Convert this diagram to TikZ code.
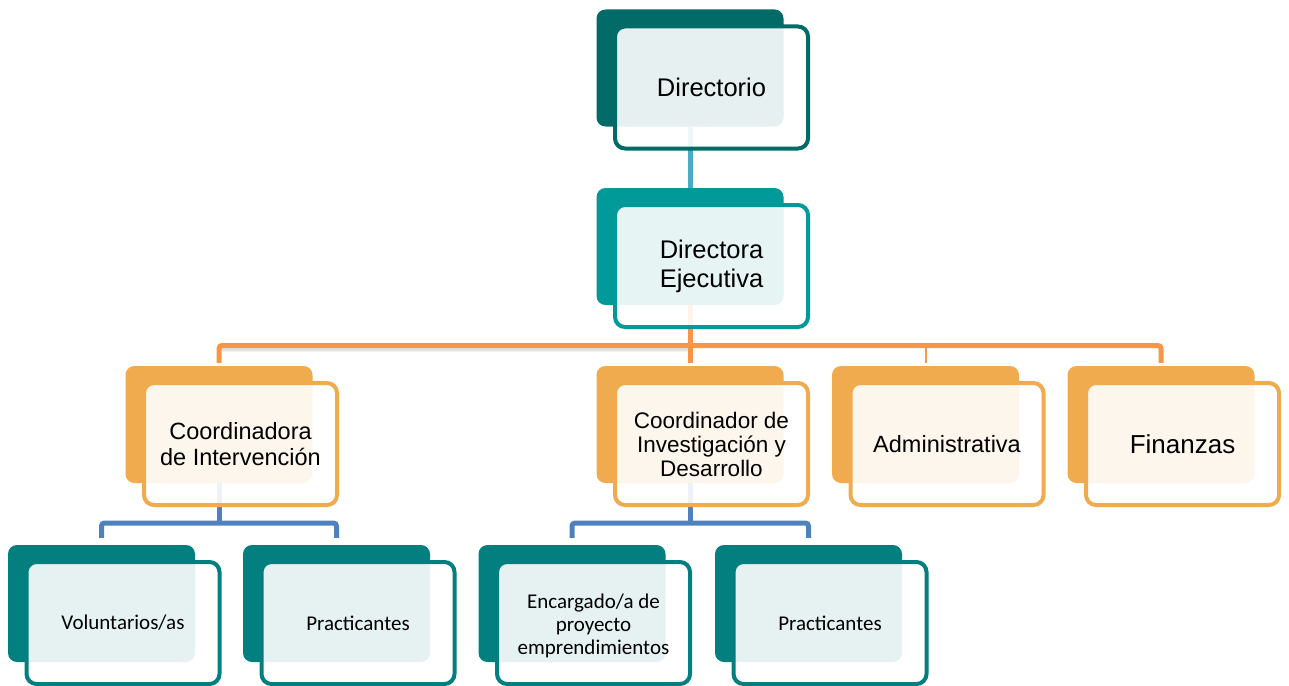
\documentclass[tikz,border=0pt]{standalone}
\usepackage{fontspec}
\setmainfont{Liberation Sans}
\newfontfamily\calib{Carlito}
\definecolor{tealA}{HTML}{026B67}
\definecolor{tealB}{HTML}{029A98}
\definecolor{tealC}{HTML}{027F7E}
\definecolor{orA}{HTML}{F0AB4E}
\definecolor{orL}{HTML}{F79646}
\definecolor{blL}{HTML}{4F81BD}
\definecolor{lbL}{HTML}{4BACC6}
\begin{document}
\begin{tikzpicture}[x=1pt,y=-1pt,
  back/.style={rectangle, rounded corners=9pt, minimum width=187pt, minimum height=117pt, inner sep=0pt, draw=none, fill=#1},
  front/.style={rectangle, rounded corners=10pt, minimum width=193pt, minimum height=122pt, inner sep=0pt, line width=4pt, draw=#1, fill=white, fill opacity=0.9, draw opacity=1, text opacity=1, align=center, text=black},
  conn/.style={line width=5pt, rounded corners=3pt, draw=#1},
  fshift/.style={shift={(21.5,19.5)}}
]
\useasboundingbox (0,0) rectangle (1289,685);
% back boxes
\node[back=tealA] (b1) at (690,68) {};
\node[back=tealB] (b2) at (690,246.5) {};
\node[back=orA] (b3) at (219,424.5) {};
\node[back=orA] (b4) at (690,424.5) {};
\node[back=orA] (b5) at (925.5,424.5) {};
\node[back=orA] (b6) at (1161,424.5) {};
\node[back=tealC] (b7) at (101.5,603.5) {};
\node[back=tealC] (b8) at (336.5,603.5) {};
\node[back=tealC] (b9) at (572,603.5) {};
\node[back=tealC] (b10) at (808.5,603.5) {};
% junction coordinates
\coordinate (hbar) at (690,345.5);
\coordinate (jl) at (219,523);
\coordinate (jr) at (690,523);
% connectors
\draw[conn=lbL] (b1.south) -- (b2.north);
\draw[black, opacity=0.06, line width=7pt] ([shift={(2,3)}]b3.north |- hbar) -- ([shift={(0,3)}]hbar);
\draw[black, opacity=0.06, line width=4pt] ([shift={(2,3)}]b3.north |- hbar) -- ([shift={(0,3)}]hbar);
\draw[conn=orL, shorten <=3pt] (b3.north) |- (hbar) -| ([yshift=3pt]b6.north);
\draw[conn=orL] (b2.south) -- (hbar) -- ([yshift=3pt]b4.north);
\draw[orL, line width=2pt] (hbar -| b5.north) -- ([yshift=3pt]b5.north);
\draw[conn=blL] (b3.south) -- (jl);
\draw[conn=blL, shorten <=7pt, shorten >=7pt] (b7.north) |- (jl) -| (b8.north);
\draw[conn=blL] (b4.south) -- (jr);
\draw[conn=blL, shorten <=7pt, shorten >=7pt] (b9.north) |- (jr) -| (b10.north);
% front boxes
\node[front=tealA, font=\fontsize{25.5}{29}\selectfont] (f1) at ([fshift]b1.center) {Directorio};
\node[front=tealB, font=\fontsize{25.5}{29}\selectfont] (f2) at ([fshift]b2.center) {Directora\\Ejecutiva};
\node[front=orA, font=\fontsize{23.5}{26}\selectfont] (f3) at ([fshift]b3.center) {Coordinadora\\de Intervención};
\node[front=orA, font=\fontsize{22.5}{24}\selectfont] (f4) at ([fshift]b4.center) {Coordinador de\\Investigación y\\Desarrollo};
\node[front=orA, font=\fontsize{23.5}{26}\selectfont] (f5) at ([fshift]b5.center) {Administrativa};
\node[front=orA, font=\fontsize{26}{29}\selectfont] (f6) at ([fshift]b6.center) {Finanzas};
\node[front=tealC, font=\calib\fontsize{21}{23}\selectfont] (f7) at ([fshift]b7.center) {\raisebox{-3pt}{Voluntarios/as}};
\node[front=tealC, font=\calib\fontsize{21}{23}\selectfont] (f8) at ([fshift]b8.center) {\raisebox{-3pt}{Practicantes}};
\node[front=tealC, font=\calib\fontsize{21}{23}\selectfont] (f9) at ([fshift]b9.center) {\rule{0pt}{21pt}Encargado/a de\\proyecto\\emprendimientos};
\node[front=tealC, font=\calib\fontsize{21}{23}\selectfont] (f10) at ([fshift]b10.center) {\raisebox{-3pt}{Practicantes}};
\end{tikzpicture}
\end{document}
